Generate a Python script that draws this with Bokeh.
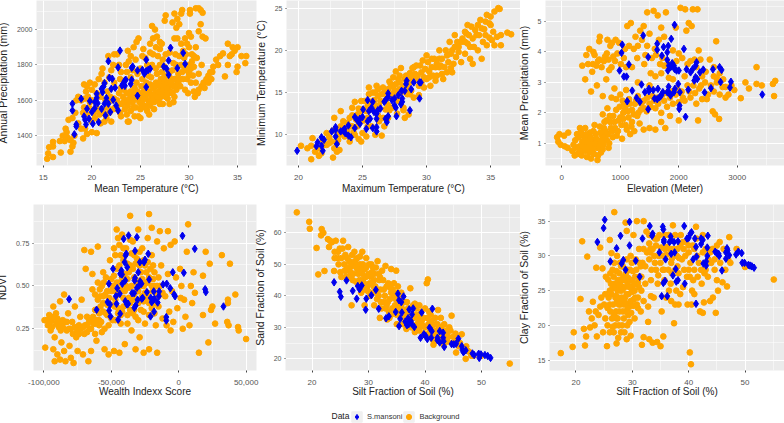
from bokeh.embed import file_html
from bokeh.resources import INLINE
from bokeh.plotting import figure
from bokeh.layouts import column, row
from bokeh.models import Range1d, FixedTicker, NumeralTickFormatter, Legend, LegendItem, ColumnDataSource, Label, Title

# (x, y) values
temp_precip_bg = [(15.4,1270),(15.5,1300),(15.6,1335),(16,1280),(16,1340),(16,1365),(16.7,1370),(16.8,1305),(17,1400),(17.2,1370),(17.3,1440),(17.4,1420),(17.5,1390),(17.8,1375),(17.8,1310),(18,1340),(18.1,1360),(18.2,1400),(17.6,1490),(18,1500),(18.3,1530),(18.6,1470),(18.9,1440),(19.1,1385),(19.3,1440),(19.5,1410),(20,1420),(20.5,1415),(20.9,1470),(21.3,1480),(18.4,1600),(18.6,1620),(18.9,1600),(19.2,1560),(19.5,1520),(19.8,1590),(20,1480),(20.3,1500),(20.8,1520),(21,1550),(21.5,1500),(22,1480),(21.8,1530),(22.2,1550),
(19.2,1690),(19.4,1650),(19.5,1680),(19.8,1700),(20,1660),(20.3,1690),(20.5,1640),(20.7,1720),(21,1750),(21.1,1780),(21.3,1700),(21.6,1650),(21.8,1730),(22,1770),(22.2,1800),(21.7,1850),(22.3,1860),(22.6,1860),(22.8,1800),(23,1760),(23.3,1710),(23.5,1800),(23.8,1820),(24,1850),(23.7,1880),(24.3,1900),(24.5,1830),(24.7,1750),(25,1780),(25.2,1850),(25.3,1890),(25.5,1840),(25.7,1800),(26,1870),(26,1920),(26.3,1950),(26.3,1860),(26.6,1900),(26.8,1850),(27,1800),(27,1890),(24.6,1930),(24.8,1950),(26.2,2020),(26.5,2000),(26.7,1960),(27,1930),(27.2,1920),(27.6,1860),(27.5,2050),(27.6,2080),(28.3,2040),(28.5,2090),(28.8,2060),(29,2030),(29.2,2090),(29.3,2110),(28.7,2010),(28.5,1950),(28.8,1950),(29.2,1920),(29.6,1950),(29.8,1920),(30,1980),(30.2,1960),(30.1,2110),(30.1,2090),(30.7,2120),(31,2120),(31.2,2110),(31.4,2095),(30.3,1860),(30.5,1850),(30.7,1900),(30.8,1840),(31,1990),(31.2,2030),(31.4,1960),(31.7,1950),(30,1900),(29.7,1860),(31.3,1800),(31,1750),(30.7,1700),
(22.4,1560),(22.6,1600),(22.8,1640),(22.9,1530),(23,1510),(23.1,1580),(23.2,1620),(23.3,1660),(23.4,1550),(23.5,1600),(23.6,1640),(23.7,1480),(23.7,1570),(23.9,1610),(24,1650),(24,1540),(24.2,1590),(24.3,1630),(24.4,1670),(24.5,1560),(24.6,1610),(24.7,1650),(24.8,1510),(24.9,1590),(25,1630),(25,1550),(25.1,1680),(25.2,1600),(25.3,1650),(25.4,1570),(25.5,1620),(25.6,1700),(25.7,1540),(25.8,1600),(25.9,1650),(26,1690),(26,1570),(26.1,1730),(26.2,1620),(26.3,1670),(26.4,1590),(26.5,1640),(26.6,1700),(26.7,1750),(26.8,1650),(26.9,1600),(27,1680),(27.1,1720),(27.2,1640),(27.3,1580),(27.4,1690),(27.5,1740),(27.6,1650),(27.7,1700),(27.8,1610),(27.9,1680),(28,1730),(28.1,1650),(28.2,1700),(28.3,1770),(28.4,1680),(28.5,1620),(28.6,1720),(28.7,1800),(28.8,1690),(28.9,1750),(29,1850),(29.1,1720),(29.2,1800),(29.4,1720),(29.6,1660),(29.7,1770),(29.9,1640),(30,1800),(30.2,1780),(30.4,1740),(28,1580),(28.4,1590),(25.9,1520),(25,1500),(24.4,1510),(23.8,1480),(27,1580),(26.4,1550),
(30.5,1650),(30.6,1620),(31,1660),(31.3,1680),(31.5,1700),(31.8,1720),(32,1740),(32.2,1760),(32.5,1790),(32.8,1830),(33.2,1850),(33.5,1865),(33.7,1735),(34,1920),(34.2,1850),(34.4,1860),(34.5,1900),(34.7,1880),(34.9,1760),(35,1790),(35,1900),(35.4,1850),(35.9,1850),(35.8,1810),(34,1800),(32.3,1720),
(22.3,1610),(22.6,1550),(22.9,1580),(23,1670),(23.3,1590),(23.6,1520),(23.8,1600),(24.1,1620),(24.3,1560),(24.5,1640),(24.8,1620),(25.1,1570),(25.3,1610),(25.5,1560),(25.7,1640),(25.9,1590),(26.1,1630),(26.3,1610),(26.5,1680),(26.7,1620),(26.9,1700),(27.1,1620),(27.3,1660),(27.4,1720),(27.6,1620),(27.7,1670),(27.9,1640),(28.1,1700),(28.3,1640),(28.5,1720),(28.7,1660),(28.9,1700),(29.1,1680),(29.3,1760),(29.5,1790),(29.8,1720),(30,1740),(30.2,1700),(30.5,1790),(28,1760),(28.4,1810),(28.6,1860),(27.5,1790),(26.6,1780),(25.8,1740),(25.2,1720),(24.6,1700),(24,1730),(23.6,1760),(22.9,1720),(22.3,1700),(21.9,1620),(21.4,1600),(20.9,1620),(20.4,1560),(20,1600),(19.6,1620),(19.1,1530),(19.7,1560),(20.2,1530),(20.6,1550),(21.2,1530),(21.6,1560),(22,1600),(19.3,1610),(27.2,1760),(29.5,1840),(30,1760),(30.3,1820),(29.4,1880),(28,1870),(27.3,1830),(26.2,1800),(24.2,1770),(30.9,1640),(31.6,1670),(32,1700),(32.4,1760),(33,1800)]
temp_precip_sm = [(18,1581),(18,1543),(18.2,1408),(18.4,1453),(18.4,1464),(18.9,1609),(19.2,1509),(19.3,1490),(19.4,1464),(19.5,1552),(19.7,1496),(19.8,1596),(20,1534),(20.1,1468),(20.3,1556),(20.3,1590),(20.5,1637),(20.5,1614),(20.6,1584),(20.7,1477),(21,1552),(21,1665),(21.2,1678),(21.1,1646),(21.3,1697),(21.3,1581),(21.5,1613),(21.4,1515),(21.7,1581),(21.9,1534),(21.8,1727),(22,1665),(22.1,1722),(21.7,1821),(22.2,1603),(22.4,1671),(22.5,1571),(22.7,1543),(22.7,1786),(22.9,1881),(23.1,1684),(23.2,1693),(23.4,1712),(23.5,1716),(23.4,1682),(24,1693),(24.1,1716),(24.1,1784),(24.2,1791),(24.7,1626),(24.7,1769),(25.2,1772),(25.4,1750),(25.6,1675),(25.6,1829),(25.6,1765),(25.8,1772),(26,1778),(27.4,1791),(27.7,1778),(27.9,1744),(27.9,1825),(28.1,1897),(28.8,1782),(29.4,1868),(29.6,1806)]

maxt_mint_bg = [(20.2,8.7),(20.7,8.4),(21,7.1),(21,8.7),(21.1,9.6),(21.3,8),(21.6,7.5),(21.8,7.8),(22,8.8),(22.2,10.2),(22.4,9),(22.7,7.3),(22.7,10.5),(22.8,8.4),(23,8),(23.2,8.2),(23.2,10),(23.3,11),(23.3,12.8),(23.5,11.6),(23.6,9.8),(22.8,12),(23.8,10.5),(24,9.2),(24,12),(24.2,13.2),(24.4,13.9),(24.4,10),(24.6,11),(24.7,9.5),(24.8,12.8),(24.9,9.2),(25,10.2),(25,13),(25.2,14),(25.3,9.8),(25.4,12),(25.5,14.8),(25.7,11),(25.8,15),(26,10),(26,13.5),(26.2,15.4),(26.3,11.6),(26.4,14),(26.5,9.9),(26.6,15.6),(26.7,11),(26.8,13),(26.9,15.2),(27,12),(27.1,16.3),(27.2,14.6),(27.3,13.2),(27.4,16.8),(27.5,15.3),(27.6,17.5),(27.7,12.5),(27.8,14),(27.9,16.2),(28,17.9),(28,15),(28.2,13.2),(28.2,12.9),(28.3,12),(28.4,17),(28.5,14.8),(28.6,16),(28.7,17.3),(28.8,15.2),(29,18),(29,14.4),(29.2,16.6),(29.4,14.7),(29.4,15.8),(29.6,17.4),(29.7,18.8),(29.8,15.6),(30,16.6),(30,19.4),(30.2,17.5),(30.4,18),(30.3,15.8),(30.6,19),(30.8,17),(31,18),(31,20),(31.2,19),(31.3,16.6),(31.5,20),(31.7,18.6),(31.8,21),(32,17.4),(32,20),(32.2,21.8),(32.3,19.2),(32.5,20.4),(32.7,18.6),(32.8,21.4),(33,22.2),(33,19.6),(33.2,20.8),(33.4,19),(33.5,22.8),(33.6,18.4),(33.7,20.4),(33.9,21.8),(34,23),(34,20),(34.2,23.6),(34.3,19),(34.4,21),(34.5,22.5),(34.7,24.2),(34.7,20.6),(34.9,21.5),(35,23),(35.1,21.2),(35.3,20.6),(35.3,24.6),(35.5,21.6),(35.6,25),(35.7,24.9),(35.8,21.8),(35.8,20.6),(36.3,22.1),(36.6,21.9),(34.6,23.4),(33.2,23),(31.2,17.2),(31.6,17.4),(24.3,10.3),(25.9,14.1),(26.6,12),(27.1,12.9),(28.6,12.4),(26.9,14.3),(25.4,11),(24.7,13.1),(30.7,16.4),(29.2,18.2),(28.3,16.6),(26.3,13.4),(25.1,11.7),(24.2,11),(23.1,9.4),(22.4,9.7),(21.9,9.4),(27.6,14.3),(27.9,17),(32.1,18.4),(33.1,22),(26.1,15.8),(25.6,13.9),(27.3,15.8),(28.9,16.6),(30.1,18.6),
(22.6,9.2),(23,10.6),(23.5,10.8),(24,11),(24.5,11.8),(24.9,12),(25.3,12.8),(25.6,13),(25.9,13.2),(26.2,14.6),(26.5,14.8),(26.8,14),(27,15.4),(27.3,14.8),(27.6,16),(27.9,15.4),(28.2,15.8),(28.5,16.4),(28.8,16.8),(29.1,17.2),(29.3,17),(29.6,16.2),(29.9,17.8),(30.2,16.8),(30.5,17),(30.8,18.4),(31,19),(31.4,18),(31.6,19.4),(31.9,19.6),(32.2,20.4),(32.5,19.8),(32.7,21),(33,21),(33.3,21.8),(33.6,21.4),(33.8,22.4),(34.1,21.8),(34.3,22.6),(34.6,21.8),(34.9,23.2),(35,24),(35.2,22.2),(33.4,20.4),(32.4,21),(31.1,18.2),(30.4,19),(29.5,18.2),(28.9,17.9),(28.4,15.4),(27.8,16.6),(27.2,16),(26.7,15),(26,15),(25.4,13.4),(24.6,12.4),(23.8,11.4),(23,9),(22.2,8.8),(21.5,8.4),(24.2,12.3),(24.9,14),(25.5,15.6),(26.2,12.3),(27,13.5),(27.6,15),(28.7,14.8),(29.8,16.8),(30.7,18),(31.9,17.9)]
maxt_mint_sm = [(19.9,8.1),(21.4,8.65),(21.5,9.1),(21.8,8.7),(21.8,9.7),(22,9.4),(21.9,8.1),(22.6,10.4),(22.9,10.9),(22.9,10.6),(22.9,9.8),(23,8.9),(23.3,10.4),(23.5,10.5),(23.6,10.7),(23.65,10.2),(23.9,11.1),(23.9,9.9),(24.1,9.7),(24.4,10.8),(24.4,12.1),(24.6,11.7),(24.8,11.3),(24.8,11.9),(25.05,13),(25,12.1),(25.3,10.7),(25.4,11.6),(25.4,14.1),(25.5,12.8),(25.6,11.9),(25.7,13.2),(25.8,13.9),(25.8,10.8),(25.9,12.7),(26.1,12.5),(26.1,11.9),(26.1,10.9),(26.1,10.4),(26.2,12.9),(26.4,13.1),(26.7,13.9),(26.8,14.1),(26.8,11.9),(26.9,11.5),(27,12.2),(27,14.9),(27,14.5),(27.3,14.1),(27.5,14.3),(27.5,13.5),(27.6,13.2),(27.65,12.2),(27.8,14.7),(28,13.6),(28.1,14.3),(28.1,13.9),(28.05,15.2),(28.3,15.2),(28.4,16),(28.45,16.4),(28.7,12.9),(28.8,15.4),(29,16.2),(29.45,16.2),(29.55,16.2),(29.45,14.3)]

elev_precip_bg = [(-80,1.2),(-60,1.05),(-40,1.3),(-20,0.95),(40,1.25),(50,0.9),(100,0.85),(110,1.35),(180,0.75),(200,0.95),(230,1.1),(260,1.3),(270,0.65),(300,0.9),(310,1.5),(340,0.6),(350,1.05),(370,1.25),(390,0.75),(400,1.5),(410,0.95),(430,0.55),(450,1.15),(470,0.7),(480,1.35),(500,0.5),(510,0.9),(530,1.1),(550,0.65),(560,1.6),(580,1.3),(600,0.85),(610,0.45),(630,1.05),(650,1.55),(670,0.7),(690,1.25),(710,0.95),(730,1.7),(750,1.4),(770,1.1),(800,0.85),(820,1.9),(840,1.5),(870,1.2),(900,1.7),(930,2.1),(960,1.4),(1000,1.85),(1030,1.15),(1060,2.3),(1090,1.6),(1130,2.05),(1170,1.3),(1200,1.7),(1240,1.4),(1290,1.9),(1330,1.65),(1400,1.45),(1500,1.5),(1600,1.45),(1700,1.7),(1770,1.5),(1850,1.9),(2000,1.75),(2330,1.75),(2580,2.05),(2620,1.95),(2690,1.8),
(350,3.55),(400,3.1),(420,3.9),(450,3.6),(470,4.1),(500,2.7),(520,3.35),(540,4),(600,2.9),(620,3.7),(640,4.35),(650,4.5),(700,2.55),(720,3.7),(760,3.1),(780,4.4),(800,3.75),(830,4.2),(850,3.5),(880,3.85),(900,2.8),(920,4.4),(980,4.3),(1040,2.4),(1060,3.8),(1080,4.1),(1100,2.75),(1120,4.85),(1180,4.95),(1200,3.5),(1260,4.5),(1300,4.2),(1340,4.7),(1400,4.85),(1430,3.9),(1460,5.3),(1500,4.6),(1520,3.3),(1570,5.35),(1590,4.1),(1640,5.2),(1680,3.6),(1700,4.8),(1780,5.3),(1750,4.5),(1830,3.15),(1900,4.05),(1950,4.8),(2000,3.95),(2030,5.45),(2110,5.4),(2130,4.7),(2170,4.95),(2220,4.85),(2240,5.4),(2320,5.4),(2340,4.05),(2370,3.75),(2400,3.2),(2530,3.75),(2600,3.5),(2640,4.35),(2700,3.3),(2760,3.1),(2800,2.85),
(700,1.95),(780,2.15),(850,2.5),(930,2.45),(1000,2.6),(1050,2),(1100,2.25),(1150,2.45),(1200,2.1),(1250,2.3),(1300,2.55),(1350,2.1),(1400,2.4),(1450,2.05),(1500,2.3),(1550,2.55),(1600,2.15),(1650,2.3),(1700,2),(1750,2.4),(1800,2.2),(1850,2.5),(1900,2.3),(1950,2.6),(2000,2.35),(2050,2.7),(2100,2.4),(2150,2.9),(2200,2.5),(2250,2.9),(2300,2.3),(2350,2.8),(2400,2.45),(2450,3),(2500,2.6),(2550,2.9),(2600,2.7),(2650,3),(2700,2.6),(2750,2.85),(2800,2.5),(2850,2.6),(2900,2.9),(2950,2.75),(3060,2.48),(3140,3),(3200,2.8),(3330,3.5),(3330,2.95),(3420,2.9),(3610,2.95),(3630,2.55),(3650,3.05),(1600,3.2),(1700,3.3),(1900,3.1),(2100,3.2),(2300,3.5),(1500,2.9),(1300,3),(1100,3.5),(1750,3.55),(2200,3.7),
(220,0.6),(250,0.85),(280,1.2),(320,0.75),(330,1.35),(360,0.9),(380,1.1),(420,1.3),(440,0.8),(460,1.0),(490,1.2),(520,0.75),(540,1.4),(570,1.0),(590,1.15),(620,0.6),(640,0.9),(660,1.35),(680,1.1),(700,0.8),(720,1.5),(740,1.2),(760,1.75),(790,1.3),(810,1.0),(830,1.7),(860,1.4),(880,1.9),(910,1.5),(940,1.25),(970,1.75),(990,2.2),(1020,1.6),(1050,1.8),(1080,2.1),(1110,1.45),(1140,1.85),(1160,2.3),(1190,1.55),(1230,1.95),(1270,2.4),(1310,2.0),(1360,2.3),(1410,2.15),(1460,2.5),(1520,2.2),(1580,2.4),(1640,2.5),(1720,2.6),(1790,2.65),(1880,2.7),(1970,2.8),(2070,2.5),(2180,2.7),(2280,2.65),(2380,2.9),(2480,2.45),
(530,3.6),(560,3.9),(590,3.55),(640,3.75),(680,3.5),(740,3.85),(770,3.95),(810,3.4),(860,4.3),(910,3.7),(950,3.95),(1010,3.6),(1150,4.2),(1230,4.1),(1290,3.8),(1370,4.4),(1410,3.6),(1460,4.2),(1540,3.8),(1610,3.9),(1660,4.4),(1720,3.8),(1820,3.6),(1960,3.7),(2060,3.8),(2150,3.6),(2270,3.75),(2460,3.35),(2600,3.2),(2650,3.15)]
elev_precip_sm = [(987,3.39),(1033,4.24),(1021,3.97),(1061,3.19),(1107,3.19),(1147,3.59),(1118,2.38),(1204,2.73),(1278,2.49),(1335,2.36),(1363,2.93),(1392,4.54),(1420,2.68),(1477,3.83),(1489,2.79),(1489,2.71),(1477,2.12),(1563,2.75),(1586,2.47),(1631,4.27),(1631,4.07),(1643,2.79),(1631,2.45),(1671,2.51),(1700,2.57),(1711,3.88),(1728,2.68),(1740,4.16),(1803,3.99),(1820,4.2),(1803,3.74),(1814,3.39),(1831,3.55),(1826,2.86),(1803,2.68),(1860,2.57),(1871,4.43),(1843,2.64),(1860,3.5),(1888,3.63),(1928,4.89),(1917,3.55),(1928,3.44),(1934,2.79),(1917,2.68),(1962,3.39),(2002,3.39),(2088,4.1),(1991,2.95),(2019,2.68),(2014,2.24),(2008,2.13),(2116,1.87),(2162,2.76),(2133,3.43),(2202,3.33),(2236,3.43),(2265,3.06),(2287,3.55),(2287,3.17),(2304,3.66),(2316,3.11),(2362,3.33),(2419,3.42),(2442,2.67),(2550,2.81),(2584,3.43),(2698,3.5),(2715,3.01),(2732,3.41),(2875,2.83),(2892,3.02),(3428,2.6)]

wealth_ndvi_bg = [(-99000,.14),(-99500,.30),(-97000,.27),(-96000,.33),(-95000,.24),(-94000,.3),(-93000,.13),(-93000,.38),(-92000,.06),(-92000,.2),(-91000,.34),(-90000,.1),(-89000,.26),(-88000,.41),(-88000,.07),(-87000,.17),(-86000,.3),(-85000,.12),(-85000,.45),(-84000,.06),(-83000,.24),(-82000,.34),(-81000,.15),(-80000,.08),(-79000,.29),(-78000,.05),(-77000,.38),(-76000,.2),(-75000,.12),(-74000,.27),(-73000,.32),(-72000,.42),(-71000,.1),(-70000,.22),(-70000,.71),(-69000,.6),(-68000,.32),(-67000,.06),(-66000,.25),(-65000,.7),(-65000,.12),(-64000,.48),(-64000,.57),(-63000,.28),(-62000,.36),(-61000,.18),(-60000,.52),(-60000,.73),(-59000,.3),(-58000,.44),(-57000,.23),(-56000,.58),(-55000,.13),(-54000,.34),(-53000,.47),(-52000,.1),(-52000,.27),(-51000,.65),(-50000,.39),(-50000,.54),(-49000,.3),(-48000,.72),(-48000,.12),(-47000,.47),(-46000,.83),(-46000,.6),(-45000,.37),(-44000,.11),(-44000,.52),(-43000,.68),(-43000,.28),(-42000,.8),(-41000,.43),(-40000,.57),(-40000,.16),(-39000,.72),(-38000,.33),(-37000,.49),(-36000,.91),(-36000,.62),(-35000,.24),(-34000,.42),(-34000,.76),(-33000,.55),(-32000,.13),(-32000,.32),(-31000,.66),(-30000,.47),(-30000,.83),(-29000,.2),(-28000,.58),(-28000,.36),(-27000,.72),(-26000,.11),(-26000,.5),(-25000,.28),(-25000,.62),(-24000,.43),(-23000,.78),(-22000,.92),(-22000,.13),(-22000,.55),(-21000,.33),(-20000,.84),(-20000,.68),(-19000,.47),(-18000,.58),(-17000,.27),(-16000,.11),(-16000,.76),(-15000,.38),(-14000,.82),(-14000,.5),(-13000,.62),(-12000,.31),(-11000,.72),(-10000,.44),(-9000,.27),(-8000,.82),(-8000,.57),(-7000,.35),(-6000,.74),(-6000,.24),(-5000,.47),(-4000,.29),(-3000,.76),(-2000,.55),(-1000,.37),(1000,.6),(1500,.43),(2000,.5),(3000,.25),(4000,.42),(5000,.32),(6000,.7),(7000,.86),(8000,.27),(9000,.5),(10000,.4),(11000,.58),(12000,.46),(15000,.11),(18000,.33),(18000,.56),(20000,.7),(22000,.17),(23000,.63),(24000,.36),(25000,.38),(27000,.28),(32000,.68),(36000,.29),(37000,.27),(36500,.42),(36500,.4),(38000,.63),(42000,.45),(44000,.26),(44500,.24),(50000,.19),(-47000,.42),(-45000,.34),(-39000,.5),(-37000,.43),(-33000,.36),(-29000,.53),(-27000,.44),(-24000,.52),(-20000,.37),(-18000,.5),(-15000,.55),(-41000,.65),(-53000,.39),(-56000,.35),(-59000,.27),(-62000,.22),(-65000,.3),(-68000,.23),(-55000,.25),(-50000,.31),(-42000,.35),(-36000,.36),(-23000,.46),(-12000,.46),(-48000,.56),(-44000,.74),(-35000,.69),
(-97500,.3),(-95500,.29),(-94000,.26),(-92500,.32),(-91000,.28),(-90000,.31),(-88500,.28),(-87500,.24),(-86000,.26),(-84500,.29),(-83000,.29),(-81500,.25),(-80000,.25),(-78500,.22),(-77000,.26),(-75500,.24),(-74000,.22),(-72500,.25),(-71000,.26),(-69500,.27),(-68000,.27),(-66500,.29),(-65000,.25),(-63500,.32),(-62000,.28),(-60500,.3),(-59000,.34),(-57500,.29),(-56000,.4),(-54500,.45),(-53000,.33),(-51500,.43),(-50000,.47),(-62000,.45),(-60000,.42),(-58500,.48),(-57000,.5),(-55500,.52),(-54000,.55),(-58000,.38),(-56000,.44),
(-49000,.5),(-47500,.38),(-46000,.52),(-45000,.45),(-44000,.62),(-43000,.48),(-42000,.55),(-41000,.38),(-40000,.47),(-39000,.42),(-38000,.54),(-37000,.58),(-36000,.4),(-35000,.5),(-34000,.6),(-33000,.45),(-32000,.63),(-31000,.52),(-30000,.4),(-29000,.62),(-28000,.5),(-27000,.54),(-26000,.41),(-25000,.46),(-24000,.58),(-23000,.52),(-22000,.4),(-21000,.6),(-20000,.5),(-19000,.54),(-18000,.4),(-17000,.46),(-16000,.5),(-15000,.44),(-47000,.68),(-45000,.78),(-41000,.72),(-38000,.63),(-36000,.77),(-33000,.68),(-29000,.7),(-26000,.65),(-23000,.64),(-19000,.62),(-47000,.3),(-43000,.33),(-38000,.28),(-34000,.34),(-30000,.3),(-26000,.35),(-22000,.33),(-18000,.34)]
wealth_ndvi_sm = [(-81300,.423),(-60900,.361),(-52800,.406),(-51800,.513),(-50900,.392),(-51600,.357),(-50600,.322),(-48700,.6),(-46100,.396),(-46600,.44),(-45600,.487),(-44900,.303),(-43400,.338),(-43700,.454),(-43400,.571),(-42500,.59),(-42000,.567),(-40800,.775),(-41800,.513),(-40100,.639),(-39600,.532),(-39400,.678),(-38900,.688),(-39600,.411),(-38400,.392),(-37200,.795),(-38200,.61),(-37500,.396),(-34600,.458),(-33100,.458),(-32900,.372),(-32400,.547),(-32700,.532),(-32400,.705),(-31900,.386),(-31000,.785),(-31000,.489),(-30500,.419),(-30000,.58),(-29300,.503),(-28800,.639),(-28600,.526),(-27600,.513),(-27400,.425),(-26700,.43),(-25700,.639),(-25000,.653),(-23600,.464),(-22600,.688),(-21900,.538),(-20900,.322),(-20700,.43),(-20000,.405),(-19000,.419),(-18500,.468),(-18300,.35),(-18000,.425),(-15600,.403),(-14700,.44),(-14500,.468),(-11600,.509),(-8900,.513),(-9200,.318),(-9200,.298),(-6300,.487),(-4400,.58),(-3400,.45),(-2700,.44),(2800,.793),(3800,.577),(11900,.717),(19600,.481),(20100,.464),(33200,.38)]

silt_sand_bg = [(17.3,66.5),(19.5,63.5),(19.6,61.3),(20.8,55.2),(21.1,46.8),(21.6,59.2),(21.7,61.2),(22,60),(22.2,47.9),(22.8,58),(23,55.5),(23.5,57),(23.9,47.9),(24,54),(24.2,57.5),(24.5,52),(24.9,55),(25.2,46),(25.5,57.5),(25.7,50),(25.9,53),(26,48),(26.4,55.5),(26.6,51),(26.9,46),(27,37),(27.1,53),(27.4,49.5),(27.8,44.5),(28,52),(28.2,47),(28.5,50),(28.7,41),(28.9,54),(29,45),(29.3,48.5),(29.3,37),(29.6,52),(29.8,43),(30,47),(30.3,40),(30.5,50),(30.6,44),(31,37),(31,47),(31.4,41),(31.6,51),(31.9,45),(32,33),(32.2,38),(32.4,48),(32.7,42),(33,49.5),(33,36),(33.3,32.5),(33.5,44),(33.8,39),(34,48.5),(34,34),(34.3,42),(34.7,37),(34.9,48),(35,31),(35.2,43),(35.5,35),(35.8,41),(36,33),(36.4,38),(36.7,29.5),(37,36),(37.4,42.4),(37.5,33),(37.9,37),(38.2,28.5),(38.5,34),(38.8,30),(39,37),(39.4,32),(39.8,28),(40,36),(40.3,44),(40.5,45.2),(40.6,31),(41,34),(41.2,28),(41.5,24.5),(41.7,31),(42,26),(42.3,35.5),(42.5,30),(42.8,33),(43.2,27),(43.4,31),(43.9,28),(44.3,30),(44.7,33.7),(44.9,25),(45.4,28),(45.5,22),(46,24),(46.5,27.8),(47.2,20),(47.3,24),(48,22),(48.6,21),(50,21),(55,18.5),(26.2,49),(26.8,47.5),(27.6,51),(28,48.5),(28.4,45),(29,50),(29.5,46),(30.2,44),(30.8,49),(31.2,43),(31.8,40),(32.8,38),(33.6,35),(34.5,40),(35.3,38),(36.8,34),(37.4,31.5),(38.4,36),(39,33.5),(39.6,30.5),(40.4,33),(41.2,30),(42,29),(43,26),(44,25.5),(27.2,45),(25.2,52),(24.7,50),(26,46),(28.6,43),(30.6,47.5),(32,46),(33.9,42.5),(35.7,37),(36.2,35.5),(38,33),(40.8,28.5),(42.7,28),
(23.2,57.5),(24,52),(24.6,54),(25,47.5),(25.4,55),(25.8,48),(26.2,52),(26.5,46),(26.9,50),(27.3,47),(27.5,54),(27.9,50),(28.2,44),(28.5,52.5),(28.9,47),(29.2,44),(29.6,49),(29.9,41.5),(30.1,50),(30.4,46),(30.7,41),(31,45),(31.3,49),(31.5,39),(31.8,47),(32.1,42),(32.3,36),(32.6,45),(32.9,40),(33.2,43),(33.4,38),(33.7,33),(34,41),(34.2,36),(34.5,44),(34.8,39),(35,34),(35.1,41),(35.6,39),(35.9,36),(36.1,31),(36.5,35),(36.8,38),(37.2,33),(37.6,30),(37.9,34),(38.2,37.5),(38.6,31),(39,29),(39.3,35),(39.7,33),(40,30),(40.3,27),(40.7,35),(41,32),(41.4,26),(41.8,33),(42.2,31),(42.5,27),(42.9,30),(43.3,24.5),(43.7,29),(44.1,27),(44.5,29),(45,27),(45.6,25.5),(46.2,25),(47,23),(47.6,22.5),(48.2,21),(30.9,43),(29.4,42),(28.6,48.5),(26.6,48.5),(35.4,36),(33.2,37),(38.9,32),(41.6,28)]
silt_sand_sm = [(23.9,44.3),(24.9,41.3),(25.1,39.7),(26.1,44.9),(27.2,41.6),(27.9,39.1),(28.1,43.1),(28.4,42.1),(28.8,43.3),(29.6,39.1),(29.5,35.6),(30.5,40.2),(31.3,41.9),(31.8,35.9),(33.1,32.9),(33.6,33.5),(34.8,34.9),(35.2,40.7),(35.4,38.6),(35.8,38),(35.4,30.4),(35.6,32.7),(35.9,34.7),(36.2,39.8),(36.5,31.8),(36.8,30.7),(37,32.9),(37.2,35.7),(37.1,31),(37.5,32),(37.7,34.1),(37.6,31.2),(37.9,36),(38.1,30.1),(39.2,26.7),(39.4,34.7),(39.8,27.8),(40.1,27.3),(40.4,26.3),(40.8,29.9),(41.1,26.7),(41.2,28.8),(41.3,35.9),(42.2,25.9),(42.2,26.7),(42.6,28.8),(42.6,25.2),(43.2,28.3),(43.2,26.7),(43.3,25.6),(43.4,23.8),(44.7,24.7),(45.1,24.6),(45.5,24.8),(45.9,26.4),(46.5,24),(46.6,22.8),(46.8,22.1),(47.2,22.7),(48.4,21.7),(48.7,21.2),(49.5,21.6),(49.6,20.3),(49.9,21.4),(50.6,21.2),(51.1,20.9),(51.6,20.3)]

silt_clay_bg = [(17.3,16),(19.4,16.9),(19.6,19),(20.8,23.8),(21.1,32.1),(21.4,19.5),(21.6,17.1),(21.8,18.4),(22,29.9),(22.3,22),(22.5,19.7),(22.8,21),(23,23.4),(23.3,20),(23.6,28.3),(23.7,18.4),(24,21.5),(24.3,31.2),(24.5,24),(24.7,28.2),(24.8,19),(25,23),(25.3,27),(25.5,17),(25.6,20),(26,25),(26,32.3),(26.1,22),(26.3,30.4),(26.5,28),(26.7,19),(26.8,36.3),(27,24),(27.2,17.4),(27.2,21),(27.5,26.5),(27.6,23),(27.8,29),(28,19),(28,25),(28.3,22),(28.4,27),(28.7,24),(28.8,34.8),(29,33.6),(29.1,20),(29.2,26),(29.5,23),(29.7,18.5),(29.9,29),(30,25.5),(30.2,33),(30.4,21),(30.5,27),(30.8,35),(31,24),(31.2,31),(31.5,22),(31.7,17.2),(31.8,29),(32,18.3),(32,35),(32.3,26),(32.5,33.5),(32.8,20.5),(33,18),(33.2,31),(33.4,28),(33.6,17.5),(33.8,24),(34.2,31.5),(34.4,17.6),(34.5,26),(34.8,33),(35,17),(35.2,22),(35.4,28),(35.5,18.4),(35.8,31),(36,24),(36.4,33),(36.8,26),(37.2,34.4),(37.4,20.3),(37.6,28),(38,31),(38.2,23),(38.6,33),(39,25.5),(39.4,30),(39.8,23),(40,28),(40.2,16.1),(40.4,14.4),(40.6,25),(41,31),(41.3,34.2),(41.6,27),(42,22),(42.3,26),(42.5,21.8),(42.7,23.3),(43,31),(43.4,27),(43.8,23.5),(44,29),(44.3,24),(44.8,21.8),(45,26.5),(45.2,25),(45.5,32),(46,26.2),(46.5,28),(46.8,25.6),(47.2,32.7),(47.4,29),(48.5,31),(50,28.4),(55.1,26.6),(27.4,25),(27.7,27.5),(28,26.5),(28.2,23.5),(28.6,25.5),(28.9,27.5),(29.3,24.5),(29.6,28),(29.9,26.5),(30.2,25),(26.6,23),(26.9,26),(27.1,22),(27.6,20),(28.5,21),(29.3,21.5),(30.1,22.8),(30.7,26),(31.2,27),(31.6,25),(33,31.8),(34,32.5),(35,29),(36.2,31.3),(37,29.6),(38.3,29.7),(39,32),(40,30.5),(41.5,30),(42.5,30.5),(43.8,30.5),(44.6,29.5),(34.6,27.2),(33.3,24.2),(32.8,22.7),(36.5,25),(37.8,25),(39.2,28),(40.5,23),(25.7,26.6),(26.5,25.3),(27,20),(28,28.5),(30.6,29.5),(31.5,28.5),(35.7,26.5),
(25.8,24),(26.2,26),(26.4,21),(26.7,27),(27,25.5),(27.2,27.8),(27.3,23.5),(27.5,24),(27.7,22),(27.9,25.8),(28.1,24),(28.3,25.2),(28.5,23),(28.7,26.5),(28.8,22),(29,24.5),(29.1,28),(29.3,26.8),(29.5,25.5),(29.7,23.5),(29.9,24.8),(30.1,27.8),(30.3,26),(30.5,24),(30.7,28),(31,26.2),(31,22.5),(31.3,29),(31.6,27),(32,31),(32,23.5),(32.3,28.5),(32.6,30.5),(33,33),(33,29.5),(33.3,26.5),(33.6,31),(33.9,30),(34.2,28),(34.4,32.5),(34.7,30),(35.1,31.2),(35.5,30),(35.8,33),(36.1,30.2),(36.4,28),(36.7,31),(37,27.5),(37.3,31),(37.6,33),(37.9,30),(38.2,27.5),(38.5,31.5),(38.8,29.5),(39.1,31),(39.5,32),(39.7,27),(40,31.5),(40.3,29),(40.7,31.5),(41,28),(41.4,32.5),(41.8,29),(42.2,28),(42.5,33),(42.8,27.5),(43.5,29.5),(44.2,31),(44.6,28),(45,31.5),(45.6,29),(46.2,31),(47,29.5),(36.9,23.5),(37.6,23),(38.5,24.5),(41,24.5),(23.5,22),(24.3,22.7),(25.2,21),(26,19),(27.5,18.2),(28.6,19),(29,18),
(25.2,24.5),(25.6,22.5),(26,23),(26.3,24.5),(26.5,19.8),(26.8,21.5),(27.1,24.2),(27.4,21),(27.6,25.8),(27.9,23),(28.2,20),(28.4,23.8),(28.8,23.2),(29.2,22.5),(29.5,20.5),(29.8,21.8),(30.2,23.7),(30.4,25),(30.8,23),(31.2,25.5),(26.1,27.5),(26.8,29),(27.3,30),(28.3,28.5),(29,29.5),(29.7,30),(33.2,30.5),(34,29),(35.6,28),(36.9,29),(38,28.5),(40.2,27),(40.8,26.5),(43,28)]
silt_clay_sm = [(23.8,32),(24.9,34),(25.1,35.2),(26.1,29.2),(27.2,31.1),(27.9,32.9),(28.1,28.9),(28.4,29.4),(28.8,28),(29.5,34.9),(29.5,31.5),(30.6,29.3),(31.3,27),(31.8,32.5),(33.1,34.3),(33.6,33.2),(33.5,32.9),(34.8,30.5),(35.2,24.2),(35.4,34.2),(35.5,26.1),(35.5,33.8),(35.8,26.4),(35.6,32.3),(35.6,32),(35.9,29.5),(36.2,24.2),(36.6,32),(36.8,32.8),(36.9,32.3),(36.9,30.3),(37.2,27.2),(37.4,32),(37.5,30.5),(37.7,28.1),(37.8,26.3),(38.1,26.5),(38.1,32.1),(39.3,26),(39.2,34.3),(39.7,32.5),(40,32.6),(40.3,33.2),(40.5,33.4),(40.8,29.5),(41.1,32.5),(41.3,23.1),(41.3,31.3),(41.4,29.9),(42.2,31.7),(42.2,32.5),(42.5,32.3),(42.6,28.9),(43.1,29.2),(43.1,28.6),(43.3,31.2),(43.3,30),(43.4,32.9),(44.7,30.6),(45,30.4),(45.3,30.3),(45.4,30),(45.9,27.9),(46.6,29.6),(46.6,30.5),(46.8,31.1),(46.9,30.8),(47.2,30.1),(48.4,30.2),(48.8,30.6),(49.4,30.4),(49.5,29),(49.9,29),(50.6,28.7),(50.9,28.6),(51.2,28.5),(51.6,28.3)]

BG = "#FFA500"
SM = "#0000EE"
FONT = "Liberation Sans"
LEFT = 38  # room kept for the y axis; a negative margin pulls it under the neighbour


def panel(bg, sm, xlabel, ylabel, xr, yr, xt, xm, yt, ym, target_left, frame_w, right, h, top, bottom, xstand, xfmt=None, yfmt=None):
    p = figure(width=LEFT + frame_w + right, height=h, output_backend="svg", toolbar_location=None,
               x_range=Range1d(*xr), y_range=Range1d(*yr),
               background_fill_color="#EBEBEB", border_fill_color=None, outline_line_color=None,
               min_border_left=LEFT, min_border_right=right,
               min_border_top=top, min_border_bottom=bottom,
               margin=(0, 0, 0, target_left - LEFT))
    p.scatter([a for a, _ in bg], [b for _, b in bg], marker="circle", size=5.7, color=BG)
    p.scatter([a for a, _ in sm], [b for _, b in sm], marker="diamond", size=7.5, color=SM)
    p.xaxis.ticker = FixedTicker(ticks=xt, minor_ticks=xm)
    p.yaxis.ticker = FixedTicker(ticks=yt, minor_ticks=ym)
    if xfmt:
        p.xaxis.formatter = NumeralTickFormatter(format=xfmt)
    if yfmt:
        p.yaxis.formatter = NumeralTickFormatter(format=yfmt)
    p.xaxis.axis_label = xlabel
    for ax in (p.xaxis[0], p.yaxis[0]):
        ax.axis_line_color = None
        ax.major_tick_line_color = "#444444"
        ax.major_tick_in = 0
        ax.minor_tick_line_color = None
        ax.major_label_text_font = FONT
        ax.major_label_text_color = "#555555"
        ax.axis_label_text_font = FONT
        ax.axis_label_text_font_style = "normal"
        ax.axis_label_text_color = "#222222"
    xa, ya = p.xaxis[0], p.yaxis[0]
    xa.major_tick_out = 2
    xa.major_label_text_font_size = "8px"
    xa.major_label_standoff = 5
    xa.axis_label_text_font_size = "10px"
    xa.axis_label_standoff = xstand
    ya.major_tick_out = 1
    ya.major_label_text_font_size = "7px"
    ya.major_label_standoff = 0
    # the y title is a Title of its own: it may lie close to the tick labels without hiding them
    p.add_layout(Title(text=ylabel, align="center", text_font=FONT, text_font_size="10.5px",
                       text_font_style="normal", text_color="#222222"), "left")
    for g in (p.xgrid[0], p.ygrid[0]):
        g.grid_line_color = "white"
        g.grid_line_width = 1
        g.minor_grid_line_color = "white"
        g.minor_grid_line_width = 0.5
    return p


p1 = panel(temp_precip_bg, temp_precip_sm, "Mean Temperature (°C)", "Annual Precipitation (mm)",
           (14.3, 36.95), (1232, 2164), [15, 20, 25, 30, 35], [17.5, 22.5, 27.5, 32.5],
           [1400, 1600, 1800, 2000], [1300, 1500, 1700, 1900, 2100], 27, 229, 4, 200, 0, 35, 0)
p2 = panel(maxt_mint_bg, maxt_mint_sm, "Maximum Temperature (°C)", "Minimum Temperature (°C)",
           (19.07, 37.33), (6.36, 25.9), [20, 25, 30, 35], [22.5, 27.5, 32.5],
           [10, 15, 20, 25], [7.5, 12.5, 17.5, 22.5], 25, 235, 0, 200, 0, 35, 0)
p3 = panel(elev_precip_bg, elev_precip_sm, "Elevation (Meter)", "Mean Precipitation (mm)",
           (-279, 3808), (0.27, 5.69), [0, 1000, 2000, 3000], [500, 1500, 2500, 3500],
           [1, 2, 3, 4, 5], [0.5, 1.5, 2.5, 3.5, 4.5, 5.5], 25, 239, 0, 200, 0, 35, 0)
p4 = panel(wealth_ndvi_bg, wealth_ndvi_sm, "Wealth Indexx Score", "NDVI",
           (-107700, 57700), (0.006, 0.976), [-100000, -50000, 0, 50000], [-75000, -25000, 25000],
           [0.25, 0.5, 0.75], [0.125, 0.375, 0.625, 0.875], 26, 230, 4, 203, 4, 33, -2, xfmt="0,0", yfmt="0.00")
p5 = panel(silt_sand_bg, silt_sand_sm, "Silt Fraction of Soil (%)", "Sand Fraction of Soil (%)",
           (15.3, 56.9), (16.3, 69), [20, 30, 40, 50], [25, 35, 45, 55],
           [20, 30, 40, 50, 60], [25, 35, 45, 55, 65], 24, 236, 0, 203, 4, 33, -2)
p6 = panel(silt_clay_bg, silt_clay_sm, "Silt Fraction of Soil (%)", "Clay Fraction of Soil (%)",
           (15.3, 57), (13.5, 37.4), [20, 30, 40, 50], [25, 35, 45, 55],
           [15, 20, 25, 30, 35], [17.5, 22.5, 27.5, 32.5], 28, 236, 0, 203, 4, 33, -2)

# legend strip: the legend has its own small figure below the panels
strip = figure(width=784, height=20, output_backend="svg", toolbar_location=None,
               x_axis_location=None, y_axis_location=None, outline_line_color=None,
               min_border_left=0, min_border_right=0, min_border_top=0, min_border_bottom=0,
               x_range=Range1d(0, 1), y_range=Range1d(0, 1))
strip.grid.visible = False
# one point outside the view for each legend key: the legend only draws renderers with data
key_src = ColumnDataSource(data=dict(x=[2], y=[2], w=[1], h=[1]))
key_bg = strip.rect(x="x", y="y", width="w", height="h", source=key_src, color="#F0F0F0")
key_sm = strip.scatter(x="x", y="y", source=key_src, marker="diamond", color=SM)
key_or = strip.scatter(x="x", y="y", source=key_src, marker="circle", color=BG)
legend = Legend(items=[LegendItem(label="S.mansoni", renderers=[key_bg, key_sm]),
                       LegendItem(label="Background", renderers=[key_bg, key_or])],
                orientation="horizontal", location=(350, 0),
                background_fill_alpha=0, border_line_color=None,
                label_text_font=FONT, label_text_font_size="7.5px", label_text_color="#333333",
                glyph_width=13, glyph_height=13, spacing=0,
                margin=0, padding=0, label_standoff=4)
strip.add_layout(legend, "center")
strip.add_layout(Label(x=331, y=3, x_units="screen", y_units="screen", text="Data",
                       text_font=FONT, text_font_size="8.5px", text_color="#222222"))

layout = column(row(p1, p2, p3, spacing=0), row(p4, p5, p6, spacing=0), strip, spacing=0)
layout.styles = {"position": "absolute", "left": "0px", "top": "0px"}
open("out.html", "w").write(file_html(layout, INLINE))
